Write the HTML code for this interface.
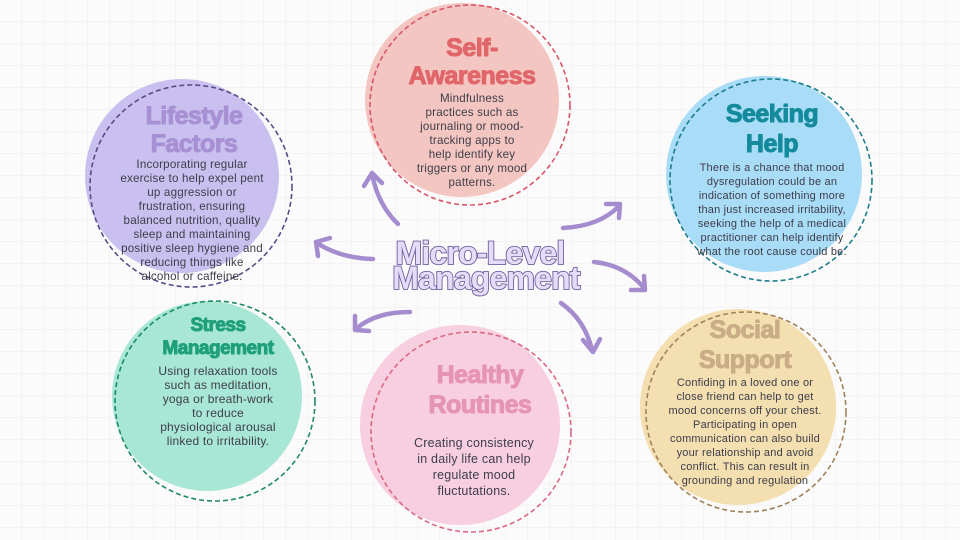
<!DOCTYPE html>
<html><head><meta charset="utf-8"><style>
html,body{margin:0;padding:0}
body{width:960px;height:540px;overflow:hidden;background:#fcfbfb;font-family:"Liberation Sans",sans-serif}
svg{display:block}
.h{font-family:"Liberation Sans",sans-serif;font-weight:bold;font-size:25px;text-anchor:middle;letter-spacing:-0.5px;stroke-width:1;paint-order:stroke}
.b{font-family:"Liberation Sans",sans-serif;font-size:11.6px;fill:#3d3d4a;text-anchor:middle;letter-spacing:0.2px}
</style></head><body>
<svg width="960" height="540" viewBox="0 0 960 540" xmlns="http://www.w3.org/2000/svg">
<defs>
<pattern id="g" width="22" height="22" patternUnits="userSpaceOnUse">
<path d="M22 0V22M0 22H22" stroke="#f0eded" stroke-width="1.3" fill="none"/>
</pattern>
</defs>
<rect width="960" height="540" fill="url(#g)"/>

<!-- Self-Awareness -->
<circle cx="462" cy="100" r="97" fill="#f4c6c1"/>
<circle cx="470" cy="105" r="100" fill="none" stroke="#d9566a" stroke-width="1.6" stroke-dasharray="5 3"/>
<text class="h" x="472" y="56" fill="#e0666a" stroke="#e0666a">Self-</text>
<text class="h" x="472" y="84" fill="#e0666a" stroke="#e0666a">Awareness</text>
<text class="b"><tspan x="472" y="102">Mindfulness</tspan><tspan x="472" y="116">practices such as</tspan><tspan x="472" y="130">journaling or mood-</tspan><tspan x="472" y="144">tracking apps to</tspan><tspan x="472" y="158">help identify key</tspan><tspan x="472" y="172">triggers or any mood</tspan><tspan x="472" y="186">patterns.</tspan></text>

<!-- Lifestyle -->
<circle cx="182" cy="176" r="97" fill="#c9c0ef"/>
<circle cx="191" cy="186" r="101" fill="none" stroke="#5b4a88" stroke-width="1.6" stroke-dasharray="5 3"/>
<text class="h" x="194" y="124" fill="#a790d4" stroke="#a790d4">Lifestyle</text>
<text class="h" x="194" y="152" fill="#a790d4" stroke="#a790d4">Factors</text>
<text class="b"><tspan x="192" y="168">Incorporating regular</tspan><tspan x="192" y="182">exercise to help expel pent</tspan><tspan x="192" y="196">up aggression or</tspan><tspan x="192" y="210">frustration, ensuring</tspan><tspan x="192" y="224">balanced nutrition, quality</tspan><tspan x="192" y="238">sleep and maintaining</tspan><tspan x="192" y="252">positive sleep hygiene and</tspan><tspan x="192" y="266">reducing things like</tspan><tspan x="192" y="280">alcohol or caffeine.</tspan></text>

<!-- Seeking Help -->
<circle cx="764" cy="174" r="98" fill="#a9dcf6"/>
<circle cx="771" cy="180" r="101" fill="none" stroke="#1d7e8a" stroke-width="1.6" stroke-dasharray="5 3"/>
<text class="h" x="772" y="122" fill="#138b9c" stroke="#138b9c">Seeking</text>
<text class="h" x="772" y="152" fill="#138b9c" stroke="#138b9c">Help</text>
<text class="b" style="font-size:11px"><tspan x="772" y="171">There is a chance that mood</tspan><tspan x="772" y="185">dysregulation could be an</tspan><tspan x="772" y="199">indication of something more</tspan><tspan x="772" y="213">than just increased irritability,</tspan><tspan x="772" y="227">seeking the help of a medical</tspan><tspan x="772" y="241">practitioner can help identify</tspan><tspan x="772" y="255">what the root cause could be.</tspan></text>

<!-- Stress Management -->
<circle cx="207" cy="396" r="95" fill="#a8e7d6"/>
<circle cx="215" cy="401" r="100" fill="none" stroke="#1e8a66" stroke-width="1.6" stroke-dasharray="5 3"/>
<text class="h" x="218" y="331" fill="#1fa07a" stroke="#1fa07a" style="font-size:19px">Stress</text>
<text class="h" x="218" y="354" fill="#1fa07a" stroke="#1fa07a" style="font-size:19px">Management</text>
<text class="b" style="font-size:12px"><tspan x="218" y="375">Using relaxation tools</tspan><tspan x="218" y="389">such as meditation,</tspan><tspan x="218" y="403">yoga or breath-work</tspan><tspan x="218" y="417">to reduce</tspan><tspan x="218" y="431">physiological arousal</tspan><tspan x="218" y="445">linked to irritability.</tspan></text>

<!-- Healthy Routines -->
<circle cx="460" cy="425" r="100" fill="#f8cfe0"/>
<circle cx="471" cy="432" r="100" fill="none" stroke="#d96a82" stroke-width="1.6" stroke-dasharray="5 3"/>
<text class="h" x="480" y="383" fill="#e694b4" stroke="#e694b4">Healthy</text>
<text class="h" x="480" y="413" fill="#e694b4" stroke="#e694b4">Routines</text>
<text class="b" style="font-size:12.5px"><tspan x="474" y="447">Creating consistency</tspan><tspan x="474" y="463">in daily life can help</tspan><tspan x="474" y="479">regulate mood</tspan><tspan x="474" y="495">fluctutations.</tspan></text>

<!-- Social Support -->
<circle cx="738" cy="407" r="98" fill="#f3dfb0"/>
<circle cx="746" cy="412" r="100" fill="none" stroke="#a0825a" stroke-width="1.6" stroke-dasharray="5 3"/>
<text class="h" x="745" y="338" fill="#c9ad86" stroke="#c9ad86">Social</text>
<text class="h" x="745" y="368" fill="#c9ad86" stroke="#c9ad86">Support</text>
<text class="b" style="font-size:11px"><tspan x="745" y="386">Confiding in a loved one or</tspan><tspan x="745" y="400">close friend can help to get</tspan><tspan x="745" y="414">mood concerns off your chest.</tspan><tspan x="745" y="428">Participating in open</tspan><tspan x="745" y="442">communication can also build</tspan><tspan x="745" y="456">your relationship and avoid</tspan><tspan x="745" y="470">conflict. This can result in</tspan><tspan x="745" y="484">grounding and regulation</tspan></text>

<!-- arrows -->
<g fill="none" stroke="#a48ccf" stroke-width="4.5" stroke-linecap="round" stroke-linejoin="round">
<path d="M398 224 Q378 205 372 174"/><path d="M364 186 L372 173 L382 183"/>
<path d="M373 259 Q340 258 317 243"/><path d="M318 256 L316 242 L330 238"/>
<path d="M563 228 Q600 226 619 206"/><path d="M606 204 L620 204 L619 218"/>
<path d="M594 262 Q625 265 644 288"/><path d="M631 290 L645 290 L644 276"/>
<path d="M561 303 Q585 320 592 350"/><path d="M583 340 L593 352 L600 339"/>
<path d="M410 312 Q375 312 356 329"/><path d="M355 316 L355 330 L369 331"/>
</g>

<!-- title -->
<g font-family="Liberation Sans, sans-serif" font-weight="bold" font-size="32" text-anchor="middle" fill="#e4dcf8" stroke="#6f5e9e" stroke-width="1.8" paint-order="stroke" letter-spacing="-0.8">
<text x="480" y="264">Micro-Level</text>
<text x="486" y="289">Management</text>
</g>
</svg>
</body></html>
